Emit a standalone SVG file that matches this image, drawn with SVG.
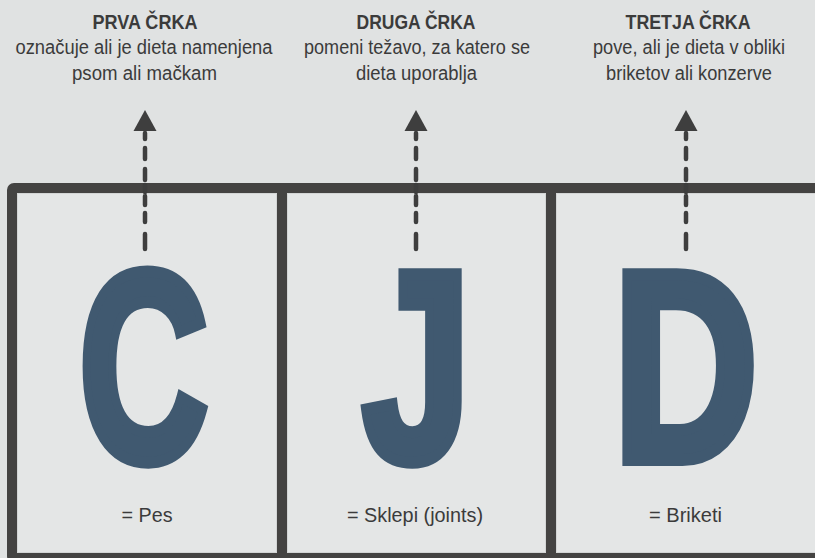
<svg xmlns="http://www.w3.org/2000/svg" width="815" height="558" viewBox="0 0 815 558">
<defs>
<style>
.bg{fill:#e0e2e2}
.panel{fill:#e4e6e6;stroke:#d3d5d5;stroke-width:1}
.frame{fill:none;stroke:#444342;stroke-width:10;stroke-linejoin:round}
.div{stroke:#444342;stroke-width:10}
.title{font-family:"Liberation Sans",Arial,sans-serif;font-weight:bold;font-size:19.5px;fill:#3b3b3b;text-anchor:middle}
.sub{font-family:"Liberation Sans",Arial,sans-serif;font-size:20px;fill:#3b3b3b;text-anchor:middle}
.lab{font-family:"Liberation Sans",Arial,sans-serif;font-size:20px;fill:#3b3b3b;text-anchor:middle}
.big{font-family:"Liberation Sans",Arial,sans-serif;font-weight:bold;font-size:270px;fill:#405970;stroke:#405970;stroke-width:12;stroke-linejoin:miter;stroke-miterlimit:2;text-anchor:middle}
.dash{fill:none;stroke:#3e3e3e;stroke-width:4.5;stroke-linecap:round}
.head{fill:#3e3e3e}
</style>
</defs>
<rect class="bg" x="0" y="0" width="815" height="558"/>

<g id="frame">
<rect class="panel" x="17.5" y="193.5" width="259" height="359"/>
<rect class="panel" x="287.5" y="193.5" width="258" height="359"/>
<rect class="panel" x="556.5" y="193.5" width="270" height="359"/>
<rect class="frame" x="12" y="188" width="820" height="370" rx="2"/>
<line class="div" x1="282" y1="188" x2="282" y2="558"/>
<line class="div" x1="551" y1="188" x2="551" y2="558"/>
</g>

<g id="connectors">
<path class="dash" d="M145 133V139M145 148V159M145 169V180M145 185V192M145 196V205M145 213V222M145 234V249"/>
<polygon class="head" points="145,110 156.5,131 133.5,131"/>
<path class="dash" d="M416 133V139M416 148V159M416 169V180M416 185V192M416 196V205M416 213V222M416 234V249"/>
<polygon class="head" points="416,110 427.5,131 404.5,131"/>
<path class="dash" d="M686 133V139M686 148V159M686 169V180M686 185V192M686 196V205M686 213V222M686 234V249"/>
<polygon class="head" points="686,110 697.5,131 674.5,131"/>
</g>

<g id="node-c">
<text class="title" x="145" y="28.5" textLength="105" lengthAdjust="spacingAndGlyphs">PRVA ČRKA</text>
<text class="sub" x="144" y="54" textLength="257" lengthAdjust="spacingAndGlyphs">označuje ali je dieta namenjena</text>
<text class="sub" x="144.5" y="79.5" textLength="145" lengthAdjust="spacingAndGlyphs">psom ali mačkam</text>
<text class="big" transform="translate(143.6,460) scale(0.66,1)" x="0" y="0">C</text>
<text class="lab" x="147" y="522" textLength="51" lengthAdjust="spacingAndGlyphs">= Pes</text>
</g>

<g id="node-j">
<text class="title" x="416" y="28.5" textLength="119" lengthAdjust="spacingAndGlyphs">DRUGA ČRKA</text>
<text class="sub" x="417" y="54" textLength="226" lengthAdjust="spacingAndGlyphs">pomeni težavo, za katero se</text>
<text class="sub" x="416.5" y="79.5" textLength="121" lengthAdjust="spacingAndGlyphs">dieta uporablja</text>
<text class="big" transform="translate(416.6,460) scale(0.72,1)" x="0" y="0">J</text>
<text class="lab" x="415" y="522" textLength="136" lengthAdjust="spacingAndGlyphs">= Sklepi (joints)</text>
</g>

<g id="node-d">
<text class="title" x="688" y="28.5" textLength="125" lengthAdjust="spacingAndGlyphs">TRETJA ČRKA</text>
<text class="sub" x="689" y="54" textLength="192" lengthAdjust="spacingAndGlyphs">pove, ali je dieta v obliki</text>
<text class="sub" x="689" y="79.5" textLength="166" lengthAdjust="spacingAndGlyphs">briketov ali konzerve</text>
<text class="big" transform="translate(685.6,460) scale(0.74,1)" x="0" y="0">D</text>
<text class="lab" x="685.5" y="522" textLength="73" lengthAdjust="spacingAndGlyphs">= Briketi</text>
</g>
</svg>
